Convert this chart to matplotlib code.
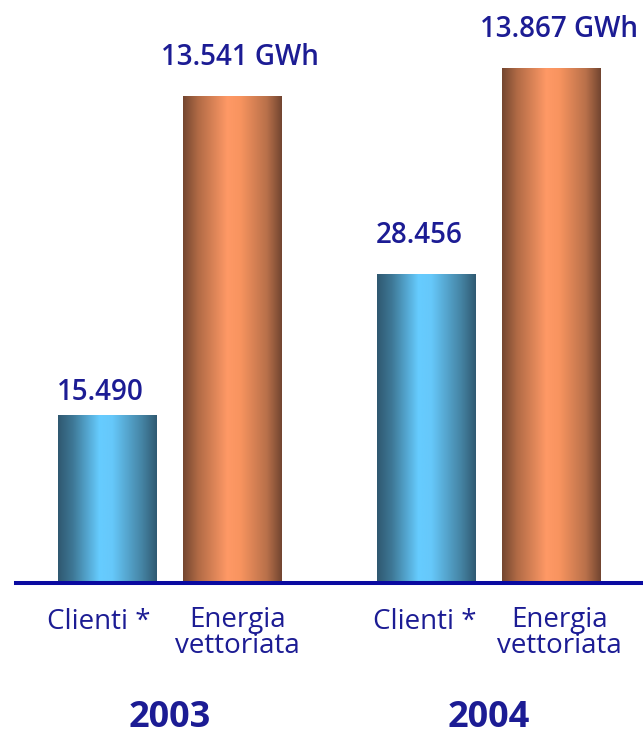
import matplotlib.pyplot as plt
import numpy as np
from matplotlib.colors import LinearSegmentedColormap

plt.rcParams['font.family'] = ['Open Sans', 'DejaVu Sans']

years = ['2003', '2004']
clienti = [15490, 28456]
energia = [13541, 13867]
clienti_labels = ['15.490', '28.456']
energia_labels = ['13.541 GWh', '13.867 GWh']
cat_labels = ['Clienti *', 'Energia\nvettoriata']

navy = '#1c1c94'

blue_cmap = LinearSegmentedColormap.from_list('cyl_blue', [
    (0.0, '#2f5870'), (0.15, '#3e7896'), (0.42, '#66ccff'),
    (0.55, '#66c8fa'), (0.85, '#4584a4'), (1.0, '#305a72')])
orange_cmap = LinearSegmentedColormap.from_list('cyl_orange', [
    (0.0, '#744630'), (0.15, '#b06a45'), (0.45, '#ff9966'),
    (0.58, '#f8945f'), (0.85, '#b8704a'), (1.0, '#724530')])

# scala dell'energia (asse destro) non parte da zero
e_min, e_max = 7871, 14659

fig = plt.figure(figsize=(6.43, 7.33), dpi=100)
ax = fig.add_axes([16 / 643, 150 / 733, 625 / 643, 583 / 733])
ax2 = ax.twinx()

x = np.arange(len(years))
off = 0.392
w = 0.31

b1 = ax.bar(x, clienti, width=w, zorder=1)
b2 = ax2.bar(x + off, np.array(energia) - e_min, width=w, bottom=e_min, zorder=1)

grad = np.linspace(0, 1, 256).reshape(1, -1)


def shade(a, bars, cmap):
    for bar in bars:
        x0, y0 = bar.get_x(), bar.get_y()
        im = a.imshow(grad, cmap=cmap, aspect='auto', zorder=1,
                      extent=(x0, x0 + bar.get_width(), y0, y0 + bar.get_height()))
        im.set_clip_path(bar)
        bar.set_facecolor('none')
        bar.set_edgecolor('none')


shade(ax, b1, blue_cmap)
shade(ax2, b2, orange_cmap)

for a in (ax, ax2):
    a.set_xlim(-0.2853, 1.674)
    for s in a.spines.values():
        s.set_visible(False)
    a.set_xticks([])
    a.set_yticks([])
ax.set_ylim(0, 53680)
ax2.set_ylim(e_min, e_max)
ax.patch.set_visible(False)

ax2.spines['bottom'].set_visible(True)
ax2.spines['bottom'].set_color('#0a0aa0')
ax2.spines['bottom'].set_linewidth(2.9)

# etichette dei valori
for i, v in enumerate(clienti):
    gap = 10.8 if i == 0 else 22.3
    ax.annotate(clienti_labels[i], (x[i], v), xytext=(-5, gap), textcoords='offset points',
                ha='center', va='baseline', fontsize=20, fontweight='semibold', color=navy)
for i, v in enumerate(energia):
    ax2.annotate(energia_labels[i], (x[i] + off, v), xytext=(6, 22.3), textcoords='offset points',
                 ha='center', va='baseline', fontsize=20, fontweight='semibold', color=navy)

# categorie e anni
cat_dx = [[-6, 4], [-1, 6]]
for i in range(len(years)):
    ax.annotate(cat_labels[0], (x[i], 0), xytext=(cat_dx[i][0], -33), textcoords='offset points',
                ha='center', va='baseline', fontsize=20, color=navy)
    ax.annotate(cat_labels[1], (x[i] + off, 0), xytext=(cat_dx[i][1], -16.5), textcoords='offset points',
                ha='center', va='top', fontsize=20, color=navy, linespacing=0.92)
    ax.annotate(years[i], (x[i] + off / 2, 0), xytext=(0, -104), textcoords='offset points',
                ha='center', va='baseline', fontsize=26, fontweight='bold', color=navy)

fig.savefig('out.png', dpi=100)
